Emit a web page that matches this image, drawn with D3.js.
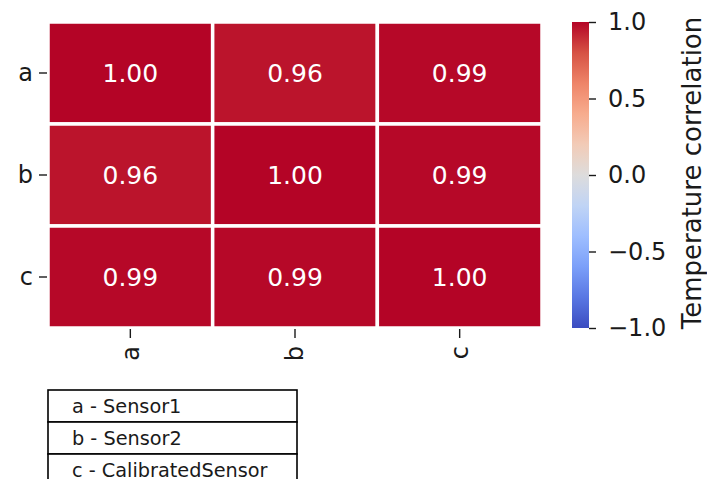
<!DOCTYPE html>
<html>
<head>
<meta charset="utf-8">
<script src="https://cdn.jsdelivr.net/npm/d3@7"></script>
<style>
  html, body { margin: 0; padding: 0; background: #fff; }
  svg { display: block; font-family: "DejaVu Sans", sans-serif; }
</style>
</head>
<body>
<svg id="chart" width="707" height="479"></svg>
<script>
// Correlation matrix of the three temperature sensors
const categories = ["a", "b", "c"];
const matrix = [
  [1.00, 0.96, 0.99],
  [0.96, 1.00, 0.99],
  [0.99, 0.99, 1.00]
];
const colorbarTicks = [-1.0, -0.5, 0.0, 0.5, 1.0];
const legendRows = ["a - Sensor1", "b - Sensor2", "c - CalibratedSensor"];
const colorbarLabel = "Temperature correlation";

// coolwarm colormap control points
const coolwarmStops = ["#3b4cc0", "#5977e3", "#7b9ff9", "#9ebeff", "#c0d4f5",
  "#dddcdc", "#f2cbb7", "#f7ac8e", "#ee8468", "#d65244", "#b40426"];
const coolwarm = d3.scaleLinear()
  .domain(coolwarmStops.map((_, i) => -1 + 2 * i / (coolwarmStops.length - 1)))
  .range(coolwarmStops)
  .interpolate(d3.interpolateRgb)
  .clamp(true);

const svg = d3.select("#chart");
const textColor = "#1a1a1a";

const heat = { left: 48, right: 542, top: 22, bottom: 328 };
const x = d3.scaleBand().domain(categories).range([heat.left, heat.right]);
const y = d3.scaleBand().domain(categories).range([heat.top, heat.bottom]);

const cells = [];
matrix.forEach((row, i) => row.forEach((v, j) => cells.push({ r: categories[i], c: categories[j], v })));

const g = svg.append("g");
g.selectAll("rect.cell").data(cells).join("rect")
  .attr("class", "cell")
  .attr("x", d => x(d.c))
  .attr("y", d => y(d.r))
  .attr("width", x.bandwidth())
  .attr("height", y.bandwidth())
  .attr("fill", d => coolwarm(d.v))
  .attr("stroke", "#fff")
  .attr("stroke-width", 3.5);

g.selectAll("text.annot").data(cells).join("text")
  .attr("class", "annot")
  .attr("x", d => x(d.c) + x.bandwidth() / 2)
  .attr("y", d => y(d.r) + y.bandwidth() / 2)
  .attr("dy", "0.36em")
  .attr("text-anchor", "middle")
  .attr("font-size", 25)
  .attr("fill", "#fff")
  .text(d => d.v.toFixed(2));

// Row axis
const yAxis = svg.append("g")
  .attr("transform", `translate(${heat.left - 1},0)`)
  .call(d3.axisLeft(y).tickSize(8).tickPadding(6));
yAxis.select(".domain").remove();
yAxis.selectAll("line").attr("stroke", textColor).attr("stroke-width", 1.4);
yAxis.selectAll("text").attr("font-size", 24).attr("fill", textColor)
  .attr("font-family", "DejaVu Sans");

// Column axis, labels turned vertical
const xAxis = svg.append("g")
  .attr("transform", `translate(0,${heat.bottom + 1})`)
  .call(d3.axisBottom(x).tickSize(9).tickPadding(6));
xAxis.select(".domain").remove();
xAxis.selectAll("line").attr("stroke", textColor).attr("stroke-width", 1.4);
xAxis.selectAll("text")
  .attr("font-size", 24).attr("fill", textColor).attr("font-family", "DejaVu Sans")
  .attr("transform", "rotate(-90)")
  .attr("text-anchor", "end")
  .attr("x", -17).attr("y", 0).attr("dy", "0.35em");

// Colorbar
const cb = { left: 572, width: 17 };
const cbScale = d3.scaleLinear().domain([-1, 1]).range([heat.bottom, heat.top]);
const defs = svg.append("defs");
const grad = defs.append("linearGradient").attr("id", "cbgrad")
  .attr("x1", 0).attr("x2", 0).attr("y1", 1).attr("y2", 0);
grad.selectAll("stop").data(d3.range(0, 1.0001, 0.05)).join("stop")
  .attr("offset", d => d)
  .attr("stop-color", d => coolwarm(-1 + 2 * d));
svg.append("rect")
  .attr("x", cb.left).attr("y", cbScale(1))
  .attr("width", cb.width).attr("height", cbScale(-1) - cbScale(1))
  .attr("fill", "url(#cbgrad)");

const cbAxis = svg.append("g")
  .attr("transform", `translate(${cb.left + cb.width},0)`)
  .call(d3.axisRight(cbScale).tickValues(colorbarTicks).tickSize(7).tickPadding(12)
    .tickFormat(d => d3.format(".1f")(d).replace("-", "\u2212")));
cbAxis.select(".domain").remove();
cbAxis.selectAll("line").attr("stroke", textColor).attr("stroke-width", 1.4);
cbAxis.selectAll("text").attr("font-size", 24).attr("fill", textColor)
  .attr("font-family", "DejaVu Sans");

svg.append("text")
  .attr("transform", `translate(701,${(heat.top + heat.bottom) / 2 - 2}) rotate(-90)`)
  .attr("text-anchor", "middle")
  .attr("font-size", 26)
  .attr("fill", textColor)
  .text(colorbarLabel);

// Legend table for the abbreviations
const table = { left: 48, width: 249, top: 390, rowH: 32 };
const rows = svg.append("g");
rows.selectAll("rect").data(legendRows).join("rect")
  .attr("x", table.left)
  .attr("y", (d, i) => table.top + i * table.rowH)
  .attr("width", table.width)
  .attr("height", table.rowH)
  .attr("fill", "#fff")
  .attr("stroke", "#000")
  .attr("stroke-width", 1.6);
rows.selectAll("text").data(legendRows).join("text")
  .attr("x", table.left + 24)
  .attr("y", (d, i) => table.top + i * table.rowH + table.rowH / 2)
  .attr("dy", "0.35em")
  .attr("font-size", 19.3)
  .attr("fill", textColor)
  .text(d => d);
</script>
</body>
</html>
